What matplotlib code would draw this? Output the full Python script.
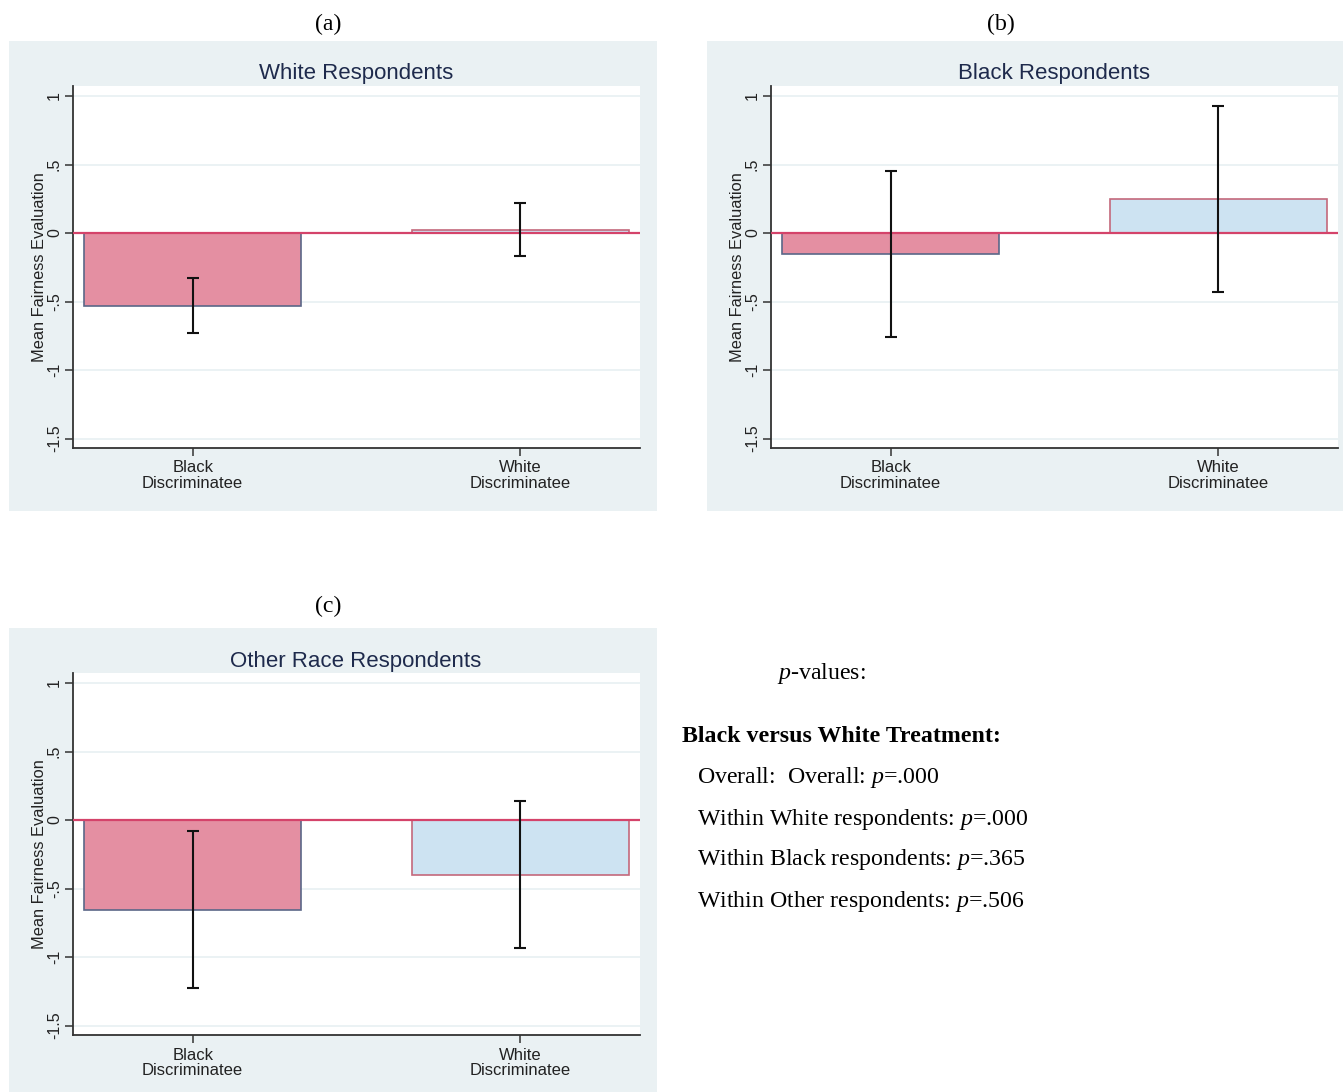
import matplotlib
matplotlib.use("Agg")
import matplotlib.pyplot as plt

plt.rcParams["font.family"] = ["Liberation Sans", "DejaVu Sans"]
plt.rcParams["mathtext.fontset"] = "custom"
plt.rcParams["mathtext.rm"] = "Liberation Serif"
plt.rcParams["mathtext.it"] = "Liberation Serif:italic"
plt.rcParams["mathtext.bf"] = "Liberation Serif:bold"

# Data: mean fairness evaluation with 95% CI bounds
categories = ["Black\nDiscriminatee", "White\nDiscriminatee"]
panel_titles = ["White Respondents", "Black Respondents", "Other Race Respondents"]
panel_letters = ["(a)", "(b)", "(c)"]
means = [
    [-0.53, 0.025],
    [-0.155, 0.248],
    [-0.655, -0.398],
]
ci_low = [
    [-0.73, -0.17],
    [-0.76, -0.43],
    [-1.226, -0.934],
]
ci_high = [
    [-0.33, 0.22],
    [0.45, 0.927],
    [-0.08, 0.139],
]
yticks = [-1.5, -1, -0.5, 0, 0.5, 1]
ytick_labels = ["-1.5", "-1", "-.5", "0", ".5", "1"]

pvalue_lines = [
    "Overall:  Overall: $p$=.000",
    "Within White respondents: $p$=.000",
    "Within Black respondents: $p$=.365",
    "Within Other respondents: $p$=.506",
]

W, H = 1343, 1092
fig = plt.figure(figsize=(W / 100, H / 100), dpi=100)
fig.patch.set_facecolor("white")

BG = "#EAF1F3"
GRID = "#E8F0F2"
PINK = "#E48FA2"
BLUE = "#CDE3F2"
ZERO = "#D4436A"
TITLE_C = "#1E2A4C"
SERIF = ["Liberation Serif", "DejaVu Serif"]
SERIF_SIZE = 17.2


def px_box(x0, y0, x1, y1):
    return [x0 / W, 1 - y1 / H, (x1 - x0) / W, (y1 - y0) / H]


bg_boxes = [(9, 41, 657, 511), (707, 41, 1343, 511), (9, 628, 657, 1092)]
ax_boxes = [(73, 86, 640, 448), (771, 86, 1338, 448), (73, 673, 640, 1035)]
title_pos = [(356, 74), (1054, 74), (356, 661)]
letter_pos = [(328, 24), (1001, 24), (328, 606)]

for i in range(3):
    # panel background sits behind the plotting area
    bg = fig.add_axes(px_box(*bg_boxes[i]), zorder=-5)
    bg.set_facecolor(BG)
    bg.set_xticks([])
    bg.set_yticks([])
    for s in bg.spines.values():
        s.set_visible(False)

    ax = fig.add_axes(px_box(*ax_boxes[i]), zorder=1)
    ax.set_facecolor("white")
    xs = [0, 1]
    edge_cols = ["#5B6788", "#C4687C"]
    fill_cols = [PINK, BLUE]
    ax.bar(xs, means[i], width=0.662, color=fill_cols, edgecolor=edge_cols,
           linewidth=1.2, zorder=2)
    ax.axhline(0, color=ZERO, lw=1.6, zorder=3)
    yerr = [[m - lo for m, lo in zip(means[i], ci_low[i])],
            [hi - m for m, hi in zip(means[i], ci_high[i])]]
    ax.errorbar(xs, means[i], yerr=yerr, fmt="none", ecolor="#111111",
                elinewidth=1.5, capsize=4.5, capthick=1.5, zorder=4)
    ax.set_xlim(-0.365, 1.365)
    ax.set_ylim(-1.569, 1.073)
    ax.set_yticks(yticks)
    ax.set_yticklabels(ytick_labels, rotation=90, va="center", fontsize=11.5,
                       color="#222222")
    ax.set_xticks(xs)
    ax.set_xticklabels(categories, fontsize=12, color="#222222", linespacing=1.05)
    ax.grid(axis="y", color=GRID, lw=1.2, zorder=0)
    ax.set_axisbelow(True)
    for s in ["top", "right"]:
        ax.spines[s].set_visible(False)
    for s in ["left", "bottom"]:
        ax.spines[s].set_color("#333333")
        ax.spines[s].set_linewidth(1.3)
    ax.tick_params(axis="y", direction="out", length=6, width=1.1,
                   color="#333333", pad=2)
    ax.tick_params(axis="x", direction="out", length=6, width=1.1,
                   color="#333333", pad=3)
    ax.set_ylabel("Mean Fairness Evaluation", fontsize=11.8, color="#222222",
                  labelpad=0)
    tx, ty = title_pos[i]
    fig.text(tx / W, 1 - ty / H, panel_titles[i], ha="center", va="center",
             fontsize=16, color=TITLE_C)
    lx, ly = letter_pos[i]
    fig.text(lx / W, 1 - ly / H, panel_letters[i], ha="center", va="center",
             fontsize=SERIF_SIZE, family=SERIF)

# p-value summary
fig.text(777 / W, 1 - 673 / H, "$p$-values:", ha="left", va="center",
         fontsize=SERIF_SIZE, family=SERIF)
fig.text(682 / W, 1 - 736 / H, "Black versus White Treatment:", ha="left",
         va="center", fontsize=SERIF_SIZE, family=SERIF, weight="bold")
for y, line in zip([777, 819, 860, 901], pvalue_lines):
    fig.text(697 / W, 1 - y / H, line, ha="left", va="center",
             fontsize=SERIF_SIZE, family=SERIF)

fig.savefig("out.png", dpi=100)
